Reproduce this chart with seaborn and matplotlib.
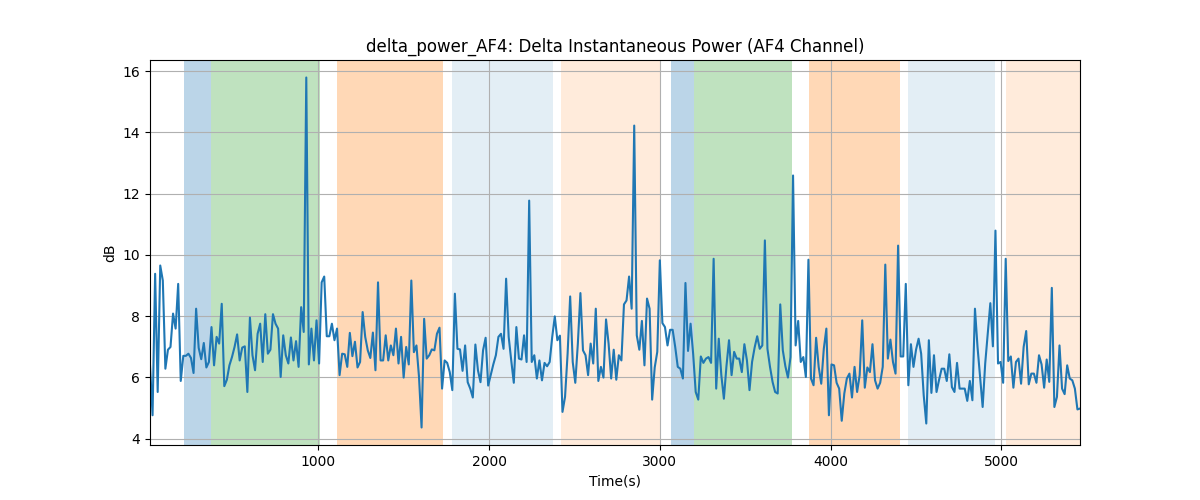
import numpy as np
import pandas as pd
import matplotlib
matplotlib.use("Agg")
import matplotlib.pyplot as plt
import seaborn as sns

title = "delta_power_AF4: Delta Instantaneous Power (AF4 Channel)"
x_label = "Time(s)"
y_label = "dB"

t_start = 15
t_step = 15

power_db = [
    6.4, 4.76, 9.38, 5.52, 9.65, 9.16, 6.28, 6.9, 6.99, 8.08, 7.59, 9.05, 5.88, 6.7, 6.7, 6.77, 6.63, 6.14, 8.24, 6.96,
    6.59, 7.12, 6.32, 6.5, 7.64, 6.39, 7.32, 7.1, 8.4, 5.71, 5.92, 6.39, 6.66, 6.99, 7.4, 6.55, 6.97, 7.01, 5.52, 7.95,
    6.72, 6.23, 7.42, 7.75, 6.5, 8.06, 6.77,
    6.9, 8.06, 7.75, 7.59, 6.01, 7.37, 6.72, 6.45, 7.3, 6.55, 7.18, 6.34, 8.29, 7.48, 15.79, 6.42, 7.59, 6.55, 7.86, 6.45,
    9.1, 9.29, 7.34, 7.34, 7.75, 7.21, 7.59, 6.07, 6.77, 6.75, 6.34, 7.45, 6.69, 7.16, 6.32, 6.5, 8.13, 7.32, 6.88, 6.63,
    7.46, 6.23, 9.1, 6.55, 6.55,
    7.37, 6.55, 7.04, 6.72, 7.59, 6.45, 7.32, 5.99, 6.99, 6.42, 9.16, 6.82, 7.04, 6.01, 4.36, 7.91, 6.61, 6.72, 6.91, 6.88,
    7.42, 7.62, 5.63, 6.55, 6.47, 6.17, 5.58, 8.73, 6.93, 6.91, 6.21, 7.04, 5.84, 5.63, 5.34, 7.07, 6.23, 5.84, 6.88, 7.29,
    5.73, 6.07, 6.42, 6.72, 7.32,
    7.42, 6.93, 9.22, 7.32, 6.55, 5.82, 7.64, 6.61, 6.58, 7.37, 6.5, 11.77, 6.5, 6.72, 5.96, 6.55, 5.9, 6.47, 6.36, 6.5,
    7.32, 7.99, 7.21, 7.36, 4.87, 5.36, 6.77, 8.64, 6.5, 5.82, 7.1, 8.75, 6.88, 6.72, 6.07, 7.1, 6.45, 8.24, 5.88, 6.34,
    5.99, 7.89, 7.1, 5.96, 6.9, 5.92,
    6.72, 6.55, 8.38, 8.51, 9.29, 8.24, 14.22, 7.37, 6.9, 7.84, 6.39, 8.57, 8.24, 5.27, 6.32, 6.83, 9.82, 7.77, 7.64, 7.04,
    7.55, 7.55, 6.99, 6.34, 6.28, 5.96, 9.08, 6.86, 7.75, 6.77, 5.52, 5.27, 6.68, 6.47, 6.61, 6.66, 6.47, 9.87, 5.63, 7.26,
    6.07, 5.3, 6.36, 7.21, 6.07,
    6.83, 6.61, 6.61, 6.17, 7.08, 6.55, 5.58, 6.5, 6.97, 7.34, 6.93, 7.04, 10.47, 6.93, 6.34, 5.85, 5.52, 5.47, 8.38, 6.88,
    6.36, 5.99, 6.66, 12.59, 7.04, 7.84, 6.5, 6.66, 6.01, 9.84, 5.96, 5.74, 7.29, 6.34, 5.79, 6.93, 7.59, 4.76, 6.42, 6.39,
    5.82, 5.63, 4.58, 5.47, 5.96,
    6.12, 5.34, 6.34, 5.52, 6.07, 7.86, 5.66, 6.32, 6.17, 7.08, 5.9, 5.63, 5.82, 6.34, 9.68, 6.61, 7.23, 6.5, 6.12, 10.3,
    6.68, 6.68, 9.05, 5.74, 7.08, 6.34, 6.9, 7.26, 6.77, 5.41, 4.49, 7.21, 5.49, 6.72, 5.52, 5.92, 6.28, 6.28, 5.88, 6.75,
    5.68, 5.52, 6.47, 5.63, 5.63,
    5.63, 5.23, 5.88, 5.25, 8.24, 6.99, 6.01, 5.03, 6.45, 7.42, 8.42, 7.01, 10.79, 6.45, 6.5, 5.82, 9.87, 6.53, 6.68, 5.66,
    6.5, 6.61, 5.79, 6.99, 7.51, 5.77, 6.12, 6.12, 5.82, 6.72, 6.42, 5.66, 6.58, 5.85, 8.92, 5.03, 5.36, 7.04, 5.63, 5.45,
    6.39, 5.96, 5.9, 5.63, 4.95, 4.98,
]

band_starts = [212, 374, 1112, 1786, 2419, 3063, 3200, 3872, 4452, 5026]
band_ends = [374, 1013, 1732, 2376, 3005, 3200, 3776, 4405, 4960, 5480]
band_colors = ["C0", "C2", "C1", "C0", "C1", "C0", "C2", "C1", "C0", "C1"]
band_alphas = [0.3, 0.3, 0.3, 0.12, 0.15, 0.3, 0.3, 0.3, 0.12, 0.15]

time_s = t_start + t_step * np.arange(len(power_db))
df = pd.DataFrame({"time": time_s, "power": power_db})

fig, ax = plt.subplots(figsize=(12, 5), dpi=100)
for s, e, c, a in zip(band_starts, band_ends, band_colors, band_alphas):
    ax.axvspan(s, e, color=c, alpha=a, linewidth=0)

sns.lineplot(data=df, x="time", y="power", ax=ax, color="C0", linewidth=1.5)
ax.set_xlim(df["time"].min(), df["time"].max())
ax.grid(True)
ax.set_title(title)
ax.set_xlabel(x_label)
ax.set_ylabel(y_label)
fig.savefig("out.png", dpi=100)
